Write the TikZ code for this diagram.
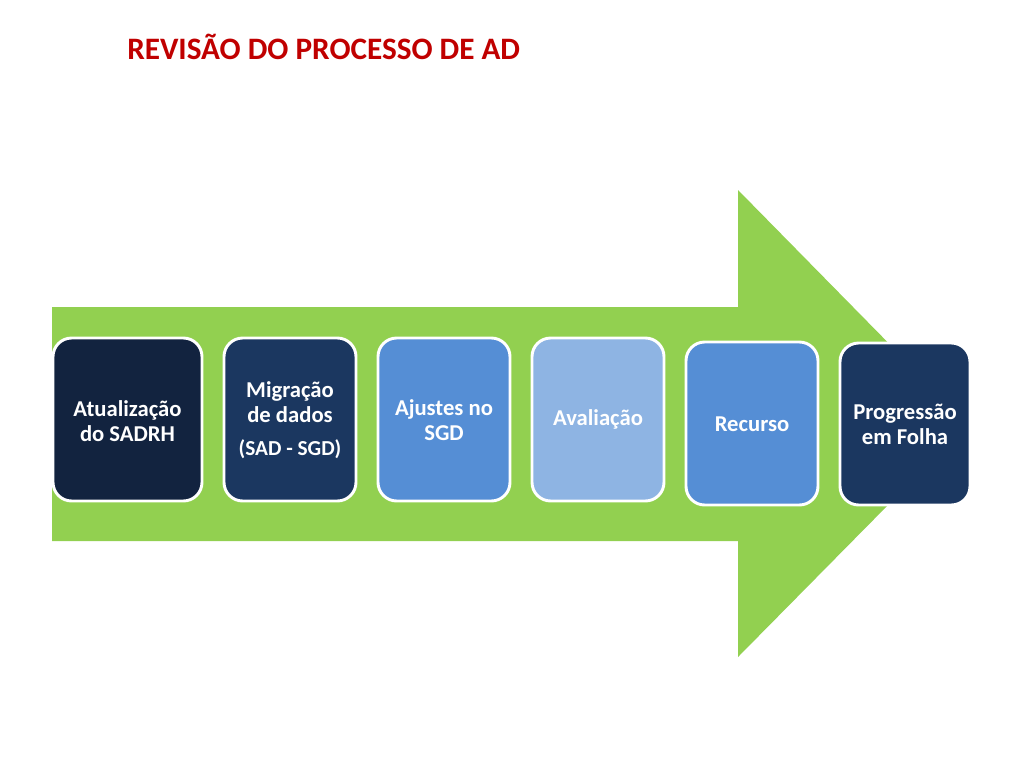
\documentclass[tikz,border=0pt]{standalone}
\usepackage{fontspec}
\setmainfont{Carlito}
\definecolor{arrowgreen}{HTML}{92D050}
\definecolor{navyA}{HTML}{12233F}
\definecolor{navyB}{HTML}{1B3760}
\definecolor{midblue}{HTML}{558ED5}
\definecolor{lightblue}{HTML}{8EB4E3}
\definecolor{titlered}{HTML}{C00000}
\tikzset{
  stepbox/.style={draw=white, line width=2.2pt, rounded corners=14pt, text=white,
    font=\bfseries\fontsize{17}{18.8}\selectfont, align=center, inner sep=0pt},
}
\begin{document}
\begin{tikzpicture}[x=0.75pt,y=-0.75pt]
\useasboundingbox (0,0) rectangle (1024,768);
\fill[white] (0,0) rectangle (1024,768);
% big arrow
\fill[arrowgreen] (52,307) -- (738,307) -- (738,190) -- (968,424) -- (738,657) -- (738,541) -- (52,541) -- cycle;
% title
\node[text=titlered, font=\bfseries\fontsize{23.4}{27}\selectfont, anchor=west, inner sep=0pt] (title) at (127,47) {REVISÃO DO PROCESSO DE AD};
% boxes
\path[stepbox, fill=navyA] (53,338) rectangle (202,501);
\node[stepbox, draw=none] (b1) at (127.5,421) {Atualização\\do SADRH};
\path[stepbox, fill=navyB] (224,338) rectangle (356,501);
\node[stepbox, draw=none] (b2) at (290,420) {Migração\\de dados\\[6pt]{\fontsize{16}{18.8}\selectfont(SAD - SGD)}};
\path[stepbox, fill=midblue] (378,338) rectangle (510,501);
\node[stepbox, draw=none] (b3) at (444,420) {Ajustes no\\SGD};
\path[stepbox, fill=lightblue] (532,338) rectangle (664,501);
\node[stepbox, draw=none] (b4) at (598,419) {Avaliação};
\path[stepbox, fill=midblue] (686,342) rectangle (818,505);
\node[stepbox, draw=none] (b5) at (752,424) {Recurso};
\path[stepbox, fill=navyB] (840,343) rectangle (970,505);
\node[stepbox, draw=none] (b6) at (905,424) {Progressão\\em Folha};
\end{tikzpicture}
\end{document}
